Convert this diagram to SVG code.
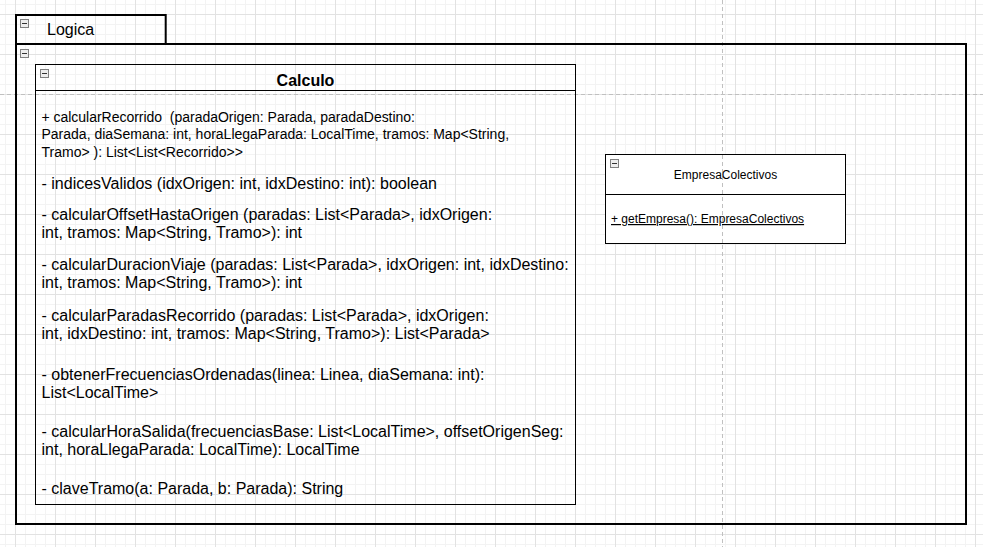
<svg xmlns="http://www.w3.org/2000/svg" width="983" height="547" viewBox="0 0 983 547">
<style>
text{font-family:"Liberation Sans",Arial,sans-serif;fill:#000}
.s12{font-size:12px}
.sm{font-size:14px}
.s16{font-size:16px}
.title{font-size:16px}
.bold{font-weight:bold}
.box{fill:none;stroke:#000;stroke-width:1}
.cont{fill:none;stroke:#000;stroke-width:2}
.icon{fill:#eeeeee;stroke:#808080;stroke-width:1}
.minus{stroke:#333;stroke-width:1}
.pb{stroke:#c0c0c0;stroke-width:1;stroke-dasharray:4 3;fill:none}
</style>
<defs>
<pattern id="grid" x="15" y="14" width="40" height="40" patternUnits="userSpaceOnUse">
<path d="M10.5 0V40M20.5 0V40M30.5 0V40M0 10.5H40M0 20.5H40M0 30.5H40" stroke="#f3f3f3" stroke-width="1" fill="none"/>
<path d="M0.5 0V40M0 0.5H40" stroke="#e2e2e2" stroke-width="1" fill="none"/>
</pattern>
<g id="ic">
<rect class="icon" x="0.5" y="0.5" width="8" height="8"/>
<path class="minus" d="M2 4.5H7"/>
</g>
</defs>
<rect width="983" height="547" fill="#ffffff"/>
<rect width="983" height="547" fill="url(#grid)"/>
<g id="page-breaks">
<path class="pb" d="M0 94.5H983"/>
<path class="pb" d="M722.5 0V547"/>
</g>
<g id="Logica">
<path class="cont" d="M16 44V15H165.7V44"/>
<rect class="cont" x="16" y="44" width="950" height="480"/>
<use href="#ic" x="20" y="19"/>
<use href="#ic" x="20" y="49"/>
<text class="title" x="47" y="35">Logica</text>
</g>
<g id="Calculo">
<rect class="box" x="35.5" y="64.5" width="540" height="440"/>
<path class="box" d="M35.5 90.5H575.5"/>
<use href="#ic" x="40" y="69"/>
<text class="title bold" x="305.5" y="86" text-anchor="middle">Calculo</text>
<text class="sm" x="41.5" y="121.5" xml:space="preserve" textLength="373.5" lengthAdjust="spacing">+ calcularRecorrido  (paradaOrigen: Parada, paradaDestino:</text>
<text class="sm" x="41.5" y="139">Parada, diaSemana: int, horaLlegaParada: LocalTime, tramos: Map&lt;String,</text>
<text class="sm" x="41.5" y="156.5">Tramo&gt; ): List&lt;List&lt;Recorrido&gt;&gt;</text>
<text class="s16" x="41.5" y="188.5">- indicesValidos (idxOrigen: int, idxDestino: int): boolean</text>
<text class="s16" x="41.5" y="219.5">- calcularOffsetHastaOrigen (paradas: List&lt;Parada&gt;, idxOrigen:</text>
<text class="s16" x="41.5" y="237.5">int, tramos: Map&lt;String, Tramo&gt;): int</text>
<text class="s16" x="41.5" y="270">- calcularDuracionViaje (paradas: List&lt;Parada&gt;, idxOrigen: int, idxDestino:</text>
<text class="s16" x="41.5" y="288">int, tramos: Map&lt;String, Tramo&gt;): int</text>
<text class="s16" x="41.5" y="320.5">- calcularParadasRecorrido (paradas: List&lt;Parada&gt;, idxOrigen:</text>
<text class="s16" x="41.5" y="338.5">int, idxDestino: int, tramos: Map&lt;String, Tramo&gt;): List&lt;Parada&gt;</text>
<text class="s16" x="41.5" y="379.5">- obtenerFrecuenciasOrdenadas(linea: Linea, diaSemana: int):</text>
<text class="s16" x="41.5" y="397.5">List&lt;LocalTime&gt;</text>
<text class="s16" x="41.5" y="436.5">- calcularHoraSalida(frecuenciasBase: List&lt;LocalTime&gt;, offsetOrigenSeg:</text>
<text class="s16" x="41.5" y="454.5">int, horaLlegaParada: LocalTime): LocalTime</text>
<text class="s16" x="41.5" y="493.5">- claveTramo(a: Parada, b: Parada): String</text>
</g>
<g id="EmpresaColectivos">
<rect x="605.5" y="154.5" width="240" height="89" fill="#ffffff" stroke="#000" stroke-width="1"/>
<path class="pb" d="M722.5 155V243"/>
<path class="box" d="M605.5 194.5H845.5"/>
<use href="#ic" x="610" y="159"/>
<text class="s12" x="725.5" y="179" text-anchor="middle">EmpresaColectivos</text>
<text class="s12" x="611" y="223" text-decoration="underline">+ getEmpresa(): EmpresaColectivos</text>
</g>
<g id="connectors"></g>
</svg>
